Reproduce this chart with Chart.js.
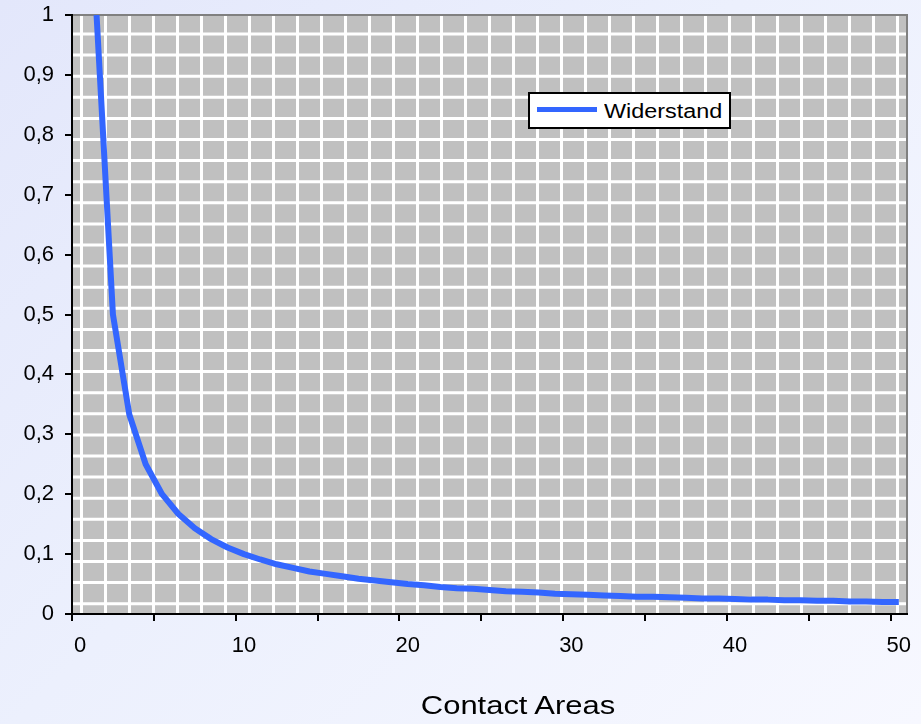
<!DOCTYPE html>
<html>
<head>
<meta charset="utf-8">
<script src="https://cdn.jsdelivr.net/npm/chart.js@4.4.0/dist/chart.umd.min.js"></script>
<style>
  html, body { margin: 0; padding: 0; }
  body {
    width: 921px; height: 724px; overflow: hidden;
    background: linear-gradient(135deg, #e3e7fb 0%, #ecf0fd 45%, #f7f8ff 100%);
    font-family: "Liberation Sans", Arial, sans-serif;
  }
  #wrap { position: relative; width: 921px; height: 724px; }
  #legend {
    position: absolute; left: 528px; top: 92px; width: 199px; height: 33px;
    border: 2px solid #000; background: #fff;
  }
  #legend .swatch { position: absolute; left: 7px; top: 13px; width: 60px; height: 5px; }
  #legend .label {
    position: absolute; left: 74px; top: 7px; font-size: 20px; line-height: 20px;
    white-space: nowrap; transform: scaleX(1.17); transform-origin: left center; color: #000;
  }
  #xtitle {
    position: absolute; left: 518px; top: 692px; font-size: 26px; line-height: 26px;
    white-space: nowrap; transform: translateX(-50%) scaleX(1.19); color: #000;
  }
</style>
</head>
<body>
<div id="wrap">
  <canvas id="chart" width="921" height="724"></canvas>
  <div id="legend"></div>
  <div id="xtitle">Contact Areas</div>
</div>
<script>
// x categories (contact areas), value for 0 is empty
var categories = [0, 1, 2, 3, 4, 5, 6, 7, 8, 9, 10, 11, 12, 13, 14, 15, 16, 17, 18, 19, 20,
    21, 22, 23, 24, 25, 26, 27, 28, 29, 30, 31, 32, 33, 34, 35, 36, 37, 38, 39, 40,
    41, 42, 43, 44, 45, 46, 47, 48, 49, 50];

// Widerstand for 1..50 contact areas
var resistance = [1, 0.5, 0.333, 0.25, 0.2, 0.167, 0.143, 0.125, 0.111, 0.1,
    0.091, 0.083, 0.077, 0.071, 0.067, 0.063, 0.059, 0.056, 0.053, 0.05,
    0.048, 0.045, 0.043, 0.042, 0.04, 0.038, 0.037, 0.036, 0.034, 0.033,
    0.032, 0.031, 0.03, 0.029, 0.029, 0.028, 0.027, 0.026, 0.026, 0.025,
    0.024, 0.024, 0.023, 0.023, 0.022, 0.022, 0.021, 0.021, 0.02, 0.02];

var xLabelEvery = 10;
var xTickEvery = 5;
var seriesName = 'Widerstand';
var lineColor = '#3366ff';

var tickFont = { family: "'Liberation Sans', Arial, sans-serif", size: 22 };

// gray plot area with white grid pattern and gray top/right frame
var plotPattern = {
    id: 'plotPattern',
    beforeDraw: function (chart) {
        var ctx = chart.ctx;
        var a = chart.chartArea;
        ctx.save();
        ctx.fillStyle = '#c0c0c0';
        ctx.fillRect(a.left, a.top, a.right - a.left, a.bottom - a.top);
        ctx.strokeStyle = '#ffffff';
        ctx.lineWidth = 3;
        ctx.beginPath();
        for (var x = a.left + 9.5; x < a.right - 2; x += 24) {
            ctx.moveTo(x, a.top);
            ctx.lineTo(x, a.bottom);
        }
        for (var y = a.top + 19; y < a.bottom - 2; y += 21.1) {
            ctx.moveTo(a.left, y);
            ctx.lineTo(a.right, y);
        }
        ctx.stroke();
        ctx.strokeStyle = '#808080';
        ctx.lineWidth = 2;
        ctx.beginPath();
        ctx.moveTo(a.left, a.top);
        ctx.lineTo(a.right, a.top);
        ctx.lineTo(a.right, a.bottom);
        ctx.stroke();
        ctx.restore();
    }
};

var ctx = document.getElementById('chart').getContext('2d');
var chart = new Chart(ctx, {
    type: 'line',
    data: {
        labels: categories,
        datasets: [{
            label: seriesName,
            data: [null].concat(resistance),
            borderColor: lineColor,
            backgroundColor: lineColor,
            borderWidth: 6,
            pointRadius: 0,
            tension: 0,
            borderJoinStyle: 'round',
            fill: false
        }]
    },
    options: {
        responsive: false,
        animation: false,
        devicePixelRatio: 1,
        layout: { padding: { top: 15, right: 14, left: 0, bottom: 70 } },
        plugins: {
            legend: { display: false },
            tooltip: { enabled: false }
        },
        scales: {
            x: {
                type: 'category',
                offset: true,
                afterFit: function (scale) {
                    scale.height = 40;
                    scale.paddingLeft = 0;
                    scale.paddingRight = 0;
                },
                border: { color: '#000', width: 2 },
                grid: {
                    offset: true,
                    drawOnChartArea: false,
                    drawTicks: true,
                    tickLength: 7,
                    lineWidth: 2,
                    color: function (c) { return c.index % xTickEvery === 0 ? '#000' : 'rgba(0,0,0,0)'; }
                },
                ticks: {
                    autoSkip: false,
                    maxRotation: 0,
                    padding: 12,
                    color: '#000',
                    font: tickFont,
                    callback: function (v, i) { return i % xLabelEvery === 0 ? String(categories[i]) : ''; }
                }
            },
            y: {
                min: 0,
                max: 1,
                afterFit: function (scale) {
                    scale.width = 72;
                    scale.paddingTop = 0;
                    scale.paddingBottom = 0;
                },
                border: { color: '#000', width: 2 },
                grid: {
                    drawOnChartArea: false,
                    drawTicks: true,
                    tickLength: 7,
                    lineWidth: 2,
                    color: '#000'
                },
                ticks: {
                    stepSize: 0.1,
                    padding: 11,
                    color: '#000',
                    font: tickFont,
                    callback: function (v) { return String(Math.round(v * 10) / 10).replace('.', ','); }
                }
            }
        }
    },
    plugins: [plotPattern]
});

// html legend from the dataset
var legend = document.getElementById('legend');
chart.data.datasets.forEach(function (ds) {
    var sw = document.createElement('div');
    sw.className = 'swatch';
    sw.style.background = ds.borderColor;
    var lb = document.createElement('span');
    lb.className = 'label';
    lb.textContent = ds.label;
    legend.appendChild(sw);
    legend.appendChild(lb);
});
</script>
</body>
</html>
